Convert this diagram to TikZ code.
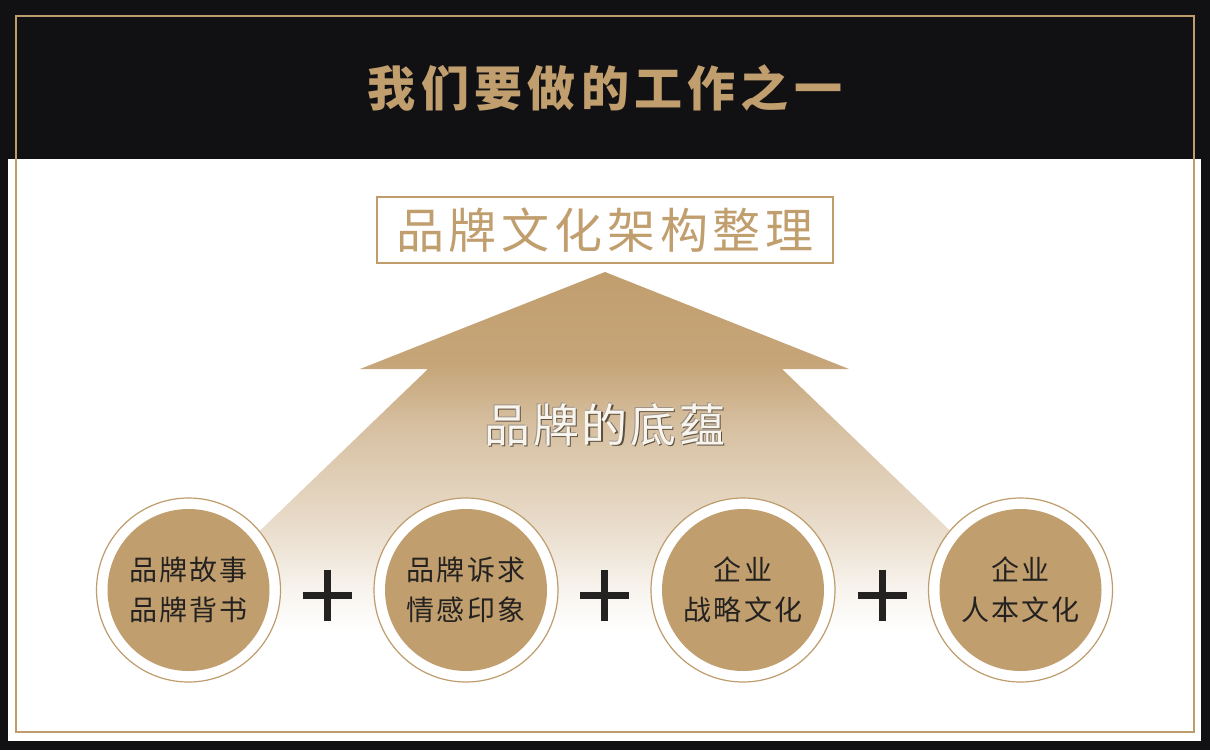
\documentclass[tikz,border=0pt]{standalone}
\usepackage{fontspec}
\newfontfamily\cjk{Noto Sans CJK SC}
\definecolor{gold}{RGB}{193,158,110}
\definecolor{goldline}{RGB}{190,156,108}
\definecolor{ink}{RGB}{17,17,19}
\definecolor{txt}{RGB}{36,34,32}
\definecolor{embdark}{RGB}{95,80,62}
\definecolor{emblight}{RGB}{248,244,238}
\pgfdeclareverticalshading{arrowfade}{100bp}{color(0bp)=(white); color(25bp)=(white); color(33bp)=(white); color(38bp)=(gold!12!white); color(45bp)=(gold!35!white); color(57bp)=(gold!65!white); color(64bp)=(gold!92!white); color(75bp)=(gold); color(100bp)=(gold)}
\tikzset{
  ring/.style={circle, draw=goldline, line width=1.2pt, fill=white, minimum size=184pt, inner sep=0pt},
  disc/.style={circle, fill=gold, minimum size=162pt, inner sep=0pt, align=center, text=txt,
    font=\cjk\fontsize{28}{40}\selectfont\addfontfeature{LetterSpace=8}},
  plusbar/.style={line width=7pt, draw=txt},
  emb/.style={font=\cjk\fontsize{46}{50}\selectfont\addfontfeature{LetterSpace=6}},
}
\begin{document}
\begin{tikzpicture}[x=1pt,y=-1pt]
\useasboundingbox (0,0) rectangle (1210,750);
% backgrounds
\fill[ink] (0,0) rectangle (1210,750);
\fill[white] (8,159) rectangle (1201,741);
\draw[goldline, line width=1.5pt] (16,16) rectangle (1194,732);
% title
\node[text=gold, font=\cjk\bfseries\fontsize{48}{50}\selectfont\addfontfeature{LetterSpace=11}] (title) at (605,88) {我们要做的工作之一};
% top box
\node[draw=goldline, line width=1.5pt, minimum width=456pt, minimum height=66pt, inner sep=0pt, text=gold,
  font=\cjk\fontsize{48}{50}\selectfont\addfontfeature{LetterSpace=10}] (box) at (605,230) {品牌文化架构整理};
% arrow shape
\coordinate (apex) at (605,272);
\shade[shading=arrowfade] (apex) -- (849,369) -- (782,369) -- (1126,700) -- (84,700) -- (428,369) -- (360,369) -- cycle;
% embossed text
\node[emb, text=embdark] (embs1) at (606.2,426.2) {品牌的底蕴};
\node[emb, text=embdark!60!white] (embs2) at (604.2,424.2) {品牌的底蕴};
\node[emb, text=emblight] (emb) at (605,425) {品牌的底蕴};
% circles
\node[ring] (r1) at (188.5,590) {};
\node[ring] (r2) at (466,590) {};
\node[ring] (r3) at (743,590) {};
\node[ring] (r4) at (1020.5,590) {};
\node[disc] (c1) at (r1) {品牌故事\\品牌背书};
\node[disc] (c2) at (r2) {品牌诉求\\情感印象};
\node[disc] (c3) at (r3) {企业\\战略文化};
\node[disc] (c4) at (r4) {企业\\人本文化};
% plus signs
\foreach \n/\x in {p1/327, p2/604.5, p3/882}{
  \coordinate (\n) at (\x,595);
  \draw[plusbar] ([xshift=-24.5pt]\n) -- ([xshift=24.5pt]\n);
  \draw[plusbar] ([yshift=-25.5pt]\n) -- ([yshift=25.5pt]\n);
}
\end{tikzpicture}
\end{document}
